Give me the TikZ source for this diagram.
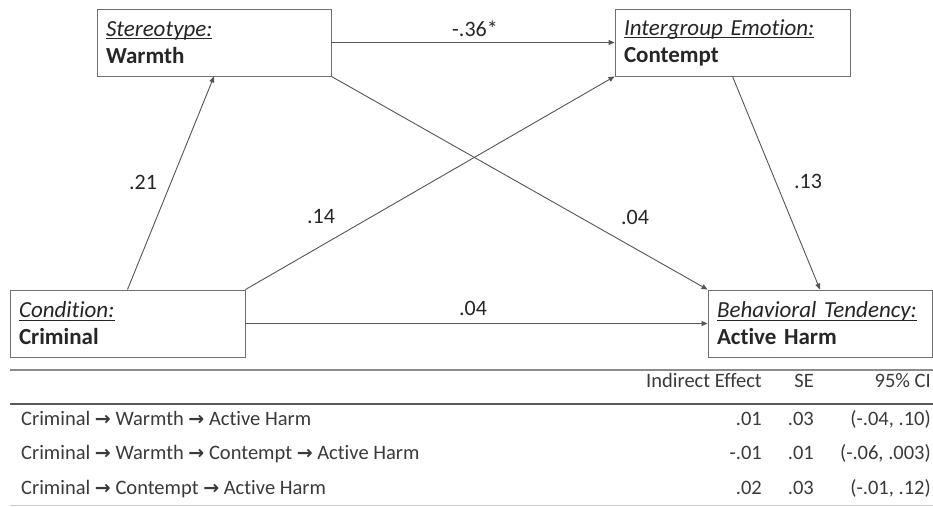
\documentclass[tikz,border=0pt]{standalone}
\usepackage{fontspec}
\setmainfont[Ligatures=NoCommon]{Carlito}
\newfontfamily\arrowfont{DejaVu Sans}
\usetikzlibrary{arrows.meta}
\definecolor{txt}{HTML}{262626}
\definecolor{tabtxt}{HTML}{3A3A3A}
\definecolor{boxline}{HTML}{707070}
\definecolor{arrline}{HTML}{555555}
\newcommand\wul[1]{\setbox0=\hbox{#1}\rlap{\rule[-2.8pt]{\wd0}{0.9pt}}\box0}
\newcommand\ttl[2]{\wul{\textit{#1}}\\\textbf{#2}}
\newcommand\arr{ {\arrowfont\bfseries\fontsize{19}{20}\selectfont →} }
\tikzset{
  varbox/.style={draw=boxline, line width=0.9pt, rectangle, minimum height=67pt,
    inner xsep=9pt, inner ysep=0pt, align=left, text=txt,
    font=\fontsize{23}{27}\selectfont},
  path/.style={draw=arrline, line width=0.9pt, -{Triangle[length=6pt,width=5pt]}},
  coef/.style={text=txt, font=\fontsize{22}{25}\selectfont, inner sep=0pt},
  tab/.style={text=tabtxt, font=\fontsize{20.5}{23}\selectfont, inner sep=0pt}
}
\begin{document}
\begin{tikzpicture}[x=1pt,y=-1pt]
\useasboundingbox[fill=white] (0,0) rectangle (933,506);

% variable boxes
\node[varbox, text width=216pt] (warmth) at (214,42.5) {\ttl{Stereotype:}{Warmth}};
\node[varbox, text width=217pt] (contempt) at (732.5,42.5) {\ttl{Intergroup Emotion:}{Contempt}};
\node[varbox, text width=217pt] (crim) at (127.5,323.5) {\ttl{Condition:}{Criminal}};
\node[varbox, text width=206pt] (harm) at (820,323.5) {\ttl{Behavioral Tendency:}{Active Harm}};

% paths
\draw[path] (warmth.east) -- (contempt.west);
\draw[path] (crim.north) -- (warmth.south);
\draw[path] (crim.north east) -- (contempt.south west);
\draw[path] (warmth.south east) -- (harm.north west);
\draw[path] (contempt.south) -- (harm.north);
\draw[path] (crim.east) -- (harm.west);

% coefficients
\node[coef] (c1) at (475,29) {-.36*};
\node[coef] (c2) at (143,182) {.21};
\node[coef] (c3) at (321,217) {.14};
\node[coef] (c4) at (635,217) {.04};
\node[coef] (c5) at (808,181) {.13};
\node[coef] (c6) at (473,308) {.04};

% table rules
\coordinate (r1a) at (10,370);  \coordinate (r1b) at (933,370);
\coordinate (r2a) at (10,404);  \coordinate (r2b) at (933,404);
\coordinate (r3a) at (10,505);  \coordinate (r3b) at (933,505);
\draw[draw=black!45, line width=1.6pt] (r1a) -- (r1b);
\draw[draw=black!65, line width=1.6pt] (r2a) -- (r2b);
\draw[draw=black!20, line width=0.8pt] (r3a) -- (r3b);

% header
\node[tab, anchor=mid east] (h1) at (762,385) {Indirect Effect};
\node[tab, anchor=mid east] (h2) at (814,385) {SE};
\node[tab, anchor=mid east] (h3) at (931,385) {95\% CI};

% rows
\node[tab, anchor=mid west] (l1) at (21,423) {Criminal\arr Warmth\arr Active Harm};
\node[tab, anchor=mid west] (l2) at (21,457) {Criminal\arr Warmth\arr Contempt\arr Active Harm};
\node[tab, anchor=mid west] (l3) at (21,492) {Criminal\arr Contempt\arr Active Harm};

\node[tab, anchor=mid east] (a1) at (762,423) {.01};
\node[tab, anchor=mid east] (b1) at (814,423) {.03};
\node[tab, anchor=mid east] (d1) at (931,423) {(-.04, .10)};
\node[tab, anchor=mid east] (a2) at (762,457) {-.01};
\node[tab, anchor=mid east] (b2) at (814,457) {.01};
\node[tab, anchor=mid east] (d2) at (931,457) {(-.06, .003)};
\node[tab, anchor=mid east] (a3) at (762,492) {.02};
\node[tab, anchor=mid east] (b3) at (814,492) {.03};
\node[tab, anchor=mid east] (d3) at (931,492) {(-.01, .12)};
\end{tikzpicture}
\end{document}
